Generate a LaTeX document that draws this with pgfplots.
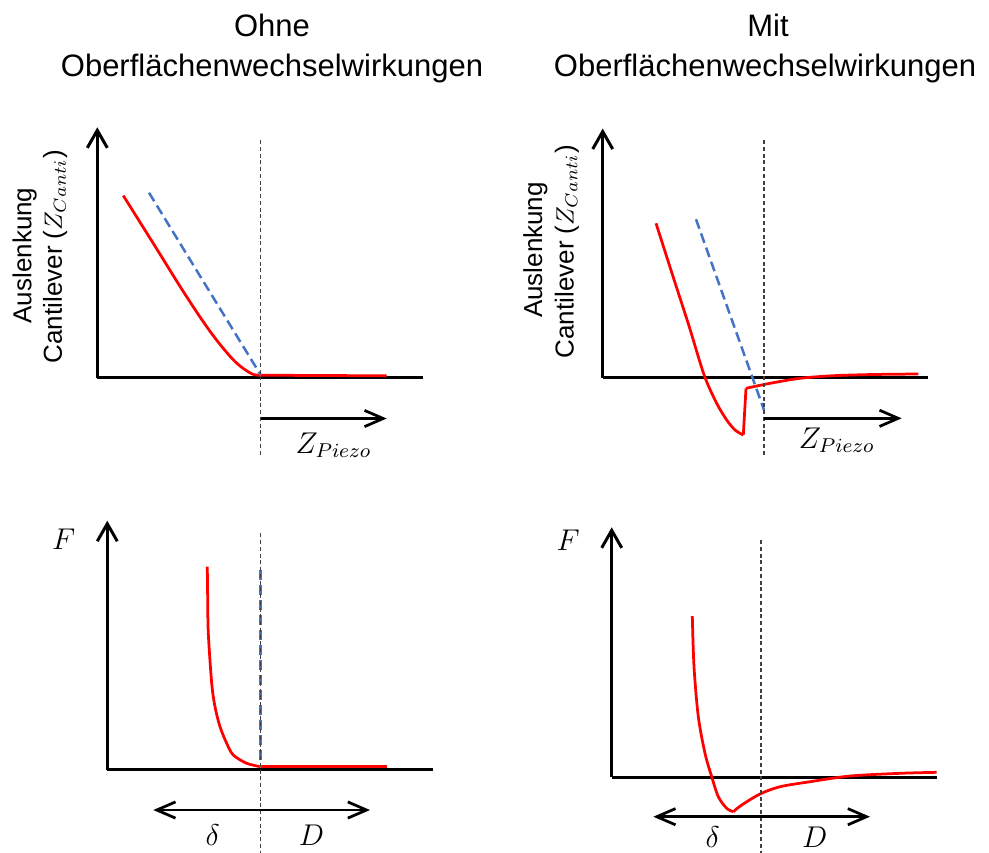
\documentclass[border=0pt]{standalone}
\usepackage{fontspec}
\setmainfont{Liberation Sans}
\usepackage{pgfplots}
\pgfplotsset{compat=1.18}
\usetikzlibrary{arrows.meta}
\definecolor{cred}{RGB}{255,0,0}
\definecolor{cblue}{RGB}{68,114,196}
\definecolor{cguide}{RGB}{64,64,64}
\pgfplotsset{
  panel/.style={
    x=0.4pt, y=0.4pt, enlargelimits=false, clip=false,
    axis lines=left, xtick=\empty, ytick=\empty,
    axis line style={line width=1.2pt, black},
    x axis line style={-},
    y axis line style={-{Straight Barb[length=7pt,width=8pt]}},
    anchor=south west,
  },
  redcurve/.style={cred, line width=1.1pt, no marks},
  bluedash/.style={cblue, line width=1pt, dash pattern=on 4pt off 2pt, no marks},
}
\tikzset{
  guide/.style={cguide, line width=0.5pt, dash pattern=on 1.6pt off 1.1pt},
  zarrow/.style={line width=1.1pt, -{Straight Barb[length=7.5pt,width=6.5pt]}},
  darrow/.style={line width=1.1pt, {Straight Barb[length=7.5pt,width=6.5pt]}-{Straight Barb[length=7.5pt,width=6.5pt]}},
  ttl/.style={font=\fontsize{12.4}{15}\selectfont, anchor=base},
  ylab/.style={font=\fontsize{10.4}{12}\selectfont, anchor=base, rotate=90},
  mlab/.style={font=\fontsize{11.5}{14}\selectfont, anchor=base west, inner sep=0pt},
}
\begin{document}
\begin{tikzpicture}
% Panel 1: ohne, Auslenkung
\begin{axis}[panel, at={(38.92pt,-151.04pt)}, xmin=0, xmax=325.4, ymin=0, ymax=250.3]
\addplot[redcurve, smooth] coordinates {(26,182) (58,131) (83,90.8) (103,60.2) (118,39.2) (133,21) (143,11.4) (153,4.6) (158,2.7) (163.4,2.4)};
\addplot[redcurve] coordinates {(163.4,2.4) (289.4,1.8)};
\addplot[bluedash] coordinates {(51.7,184.9) (163.4,2.6)};
\draw[guide] (axis cs:163.4,237.6) -- (axis cs:163.4,-79.1);
\draw[zarrow] (axis cs:163.4,-40.9) -- (axis cs:289.4,-40.9);
\node[mlab, font=\fontsize{11.5}{13}\selectfont] at (axis cs:197.7,-75.7) {$Z_{Piezo}$};
\node[ylab] at (axis cs:-66,122.1) {Auslenkung};
\node[ylab] at (axis cs:-35.3,120.9) {Cantilever ($Z_{Canti}$)};
\node[ttl] at (axis cs:174.7,341.6) {Ohne};
\node[ttl] at (axis cs:174.7,301.6) {Oberflächenwechselwirkungen};
\end{axis}
% Panel 2: mit, Auslenkung
\begin{axis}[panel, at={(241.08pt,-151pt)}, xmin=0, xmax=325.6, ymin=0, ymax=249]
\addplot[redcurve, smooth] coordinates {(53.3,154.2) (70,102) (86,52.5) (101.6,2) (114,-25.8) (124,-42.5) (132.3,-52.5) (140.6,-57.5)};
\addplot[redcurve] coordinates {(140.6,-57.5) (143.3,-10.8)};
\addplot[redcurve, smooth] coordinates {(143.3,-10.8) (167.3,-5.8) (197.3,-0.8) (230.6,1.8) (270,3) (315.6,3.5)};
\addplot[bluedash] coordinates {(93.3,158.2) (161.3,-32.5)};
\draw[guide] (axis cs:161.3,237.5) -- (axis cs:161.3,-79.2);
\draw[zarrow] (axis cs:161.3,-40.8) -- (axis cs:299,-40.8);
\node[mlab, font=\fontsize{11.5}{13}\selectfont] at (axis cs:195.6,-70.8) {$Z_{Piezo}$};
\node[ylab] at (axis cs:-60.7,127.5) {Auslenkung};
\node[ylab] at (axis cs:-29.1,125.8) {Cantilever ($Z_{Canti}$)};
\node[ttl] at (axis cs:165.3,341.5) {Mit};
\node[ttl] at (axis cs:162.3,301.5) {Oberflächenwechselwirkungen};
\end{axis}
% Panel 3: ohne, Kraft
\begin{axis}[panel, at={(42.92pt,-307.8pt)}, xmin=0, xmax=325.4, ymin=0, ymax=248.8]
\addplot[redcurve, smooth] coordinates {(100,202.8) (100.4,169.5) (101,136.2) (104.4,86.2) (107.7,62.8) (112.7,42.8) (119.4,26.2) (126,14.5) (139.4,6.2) (153.4,2.8)};
\addplot[redcurve] coordinates {(153.4,2.8) (279.4,2.8)};
\addplot[bluedash] coordinates {(153.4,199.5) (153.4,2.8)};
\draw[guide] (axis cs:153.4,236.2) -- (axis cs:153.4,-95);
\draw[darrow] (axis cs:46,-40.5) -- (axis cs:262.7,-40.5);
\node[mlab] at (axis cs:97.7,-75.5) {$\delta$};
\node[mlab] at (axis cs:191,-75.5) {$D$};
\node[mlab] at (axis cs:-55.6,220.2) {$F$};
\end{axis}
% Panel 4: mit, Kraft
\begin{axis}[panel, at={(244.68pt,-310.8pt)}, xmin=0, xmax=325, ymin=0, ymax=249.7]
\addplot[redcurve, smooth] coordinates {(80.6,161) (82.3,110.3) (86.6,60.3) (93.3,23.7) (100,0.3) (106.6,-19.7) (115,-31.3) (121.6,-34.7)};
\addplot[redcurve, smooth] coordinates {(121.6,-34.7) (130,-28) (148.3,-17) (168.3,-9.7) (198.3,-4.7) (238.3,1) (288.3,3.7) (325,4.7)};
\draw[guide] (axis cs:149.3,237) -- (axis cs:149.3,-95);
\draw[darrow] (axis cs:41.6,-39.7) -- (axis cs:258.3,-39.7);
\node[mlab] at (axis cs:93.3,-70.5) {$\delta$};
\node[mlab] at (axis cs:190,-70.5) {$D$};
\node[mlab] at (axis cs:-55.7,227) {$F$};
\end{axis}
\pgfresetboundingbox
\path[use as bounding box] (0,0) rectangle (395.6pt,-340.8pt);
\end{tikzpicture}
\end{document}
